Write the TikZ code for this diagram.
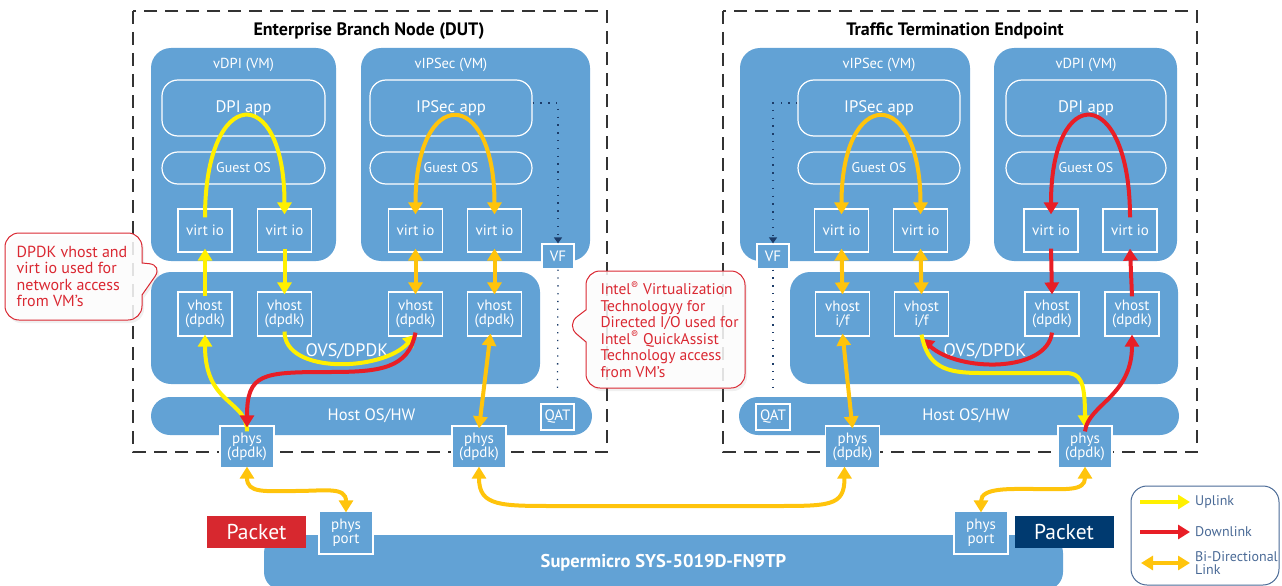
\documentclass[tikz,border=0pt]{standalone}
\usepackage{fontspec}
\setmainfont{PT Sans}
\usepackage{tikz}
\usetikzlibrary{arrows.meta,positioning,calc,shapes.callouts,shadows}

\definecolor{boxblue}{RGB}{98,162,213}
\definecolor{upyellow}{RGB}{255,240,0}
\definecolor{biorange}{RGB}{255,196,12}
\definecolor{downred}{RGB}{232,30,38}
\definecolor{notered}{RGB}{218,40,50}
\definecolor{pktred}{RGB}{215,40,47}
\definecolor{pktnavy}{RGB}{0,58,112}
\definecolor{vfnavy}{RGB}{28,60,105}
\definecolor{keytxt}{RGB}{74,106,150}

\tikzset{dashframe/.style={draw=black!80,line width=1.6pt,dash pattern=on 13pt off 8pt}}
\tikzset{boxtitle/.style={font=\fontsize{18}{20}\selectfont\bfseries,inner sep=0pt}}
\tikzset{vm/.style={fill=boxblue,rounded corners=20pt,inner sep=0pt}}
\tikzset{vmtxt/.style={text=white,font=\fontsize{14.5}{16}\selectfont,inner sep=0pt}}
\tikzset{app/.style={draw=white,line width=1.2pt,rounded corners=16pt,text=white,inner sep=0pt,minimum height=56pt,font=\fontsize{16.7}{18}\selectfont}}
\tikzset{os/.style={app,minimum height=32pt,font=\fontsize{14}{15}\selectfont}}
\tikzset{port/.style={draw=white,line width=1.2pt,text=white,align=center,inner sep=0pt,font=\fontsize{15}{14}\selectfont}}
\tikzset{io/.style={port,minimum width=54pt,minimum height=43pt}}
\tikzset{fillbox/.style={port,fill=boxblue}}
\tikzset{bar/.style={fill=boxblue,text=white,inner sep=0pt,font=\fontsize{16.5}{18}\selectfont}}
\tikzset{vfdots/.style={draw=vfnavy,line width=1.3pt,dash pattern=on 1.3pt off 6.5pt,-{Triangle[length=6pt,width=8pt]}}}
\tikzset{pkt/.style={text=white,inner sep=0pt,minimum width=99pt,minimum height=32pt,font=\fontsize{21.5}{23}\selectfont}}
\tikzset{callnote/.style={rectangle callout,rounded corners=14pt,draw=notered,line width=1pt,fill=white,fill opacity=0.85,text opacity=1,
  text=notered,align=left,inner sep=0pt,callout pointer width=32pt,font=\fontsize{16}{16.6}\selectfont,
  drop shadow={opacity=0.12,shadow xshift=2pt,shadow yshift=-3pt}}}
\tikzset{keytxt/.style={text=keytxt,align=left,inner sep=0pt,font=\fontsize{14}{13.5}\selectfont}}

\begin{document}
\begin{tikzpicture}[x=1pt,y=-1pt,
  uplink/.style={draw=upyellow,line width=4pt,-{Triangle[length=12pt,width=14pt]}},
  downlink/.style={draw=downred,line width=4pt,-{Triangle[length=12pt,width=14pt]}},
  bilink/.style={draw=biorange,line width=4pt,{Triangle[length=12pt,width=14pt]}-{Triangle[length=12pt,width=14pt]}}]
\useasboundingbox (0,0) rectangle (1282,586);

\draw[dashframe] (133,11) rectangle (607,452);
\draw[dashframe] (723,11) rectangle (1197,452);
\node[boxtitle] (ttl1) at (369,31) {Enterprise Branch Node (DUT)};
\node[boxtitle] (ttl2) at (955,31) {Traffic Termination Endpoint};

% enterprise branch node
\node[vm,minimum width=185pt,minimum height=213pt] (vm1) at (243.5,154.5) {};
\node[app,minimum width=163pt] (app1) at (243.5,108) {DPI app};
\node[os,minimum width=163pt] (os1) at (243.5,168) {Guest OS};
\node[vmtxt,above=8pt of app1] (lbl1) {vDPI (VM)};
\node[io] (vio1) at (205,230.5) {virt io};
\node[io] (vio2) at (284.5,230.5) {virt io};

\node[vm,minimum width=229pt,minimum height=213pt] (vm2) at (475.5,154.5) {};
\node[app,minimum width=162pt] (app2) at (451,108) {IPSec app};
\node[os,minimum width=162pt] (os2) at (451,168) {Guest OS};
\node[vmtxt,above=8pt of app2] (lbl2) {vIPSec (VM)};
\node[io] (vio3) at (415.5,230.5) {virt io};
\node[io] (vio4) at (494.5,230.5) {virt io};
\node[fillbox,minimum width=32pt,minimum height=25pt] (vf1) at (558,256.5) {VF};

\node[vm,minimum width=389pt,minimum height=112pt] (ovs1) at (345.5,328) {};
\node[vmtxt,font=\fontsize{18}{20}\selectfont] (ovst1) at (347,351) {OVS/DPDK};
\node[io,minimum height=44pt] (vh1) at (205,314) {vhost\\(dpdk)};
\node[io,minimum height=44pt] (vh2) at (284.5,314) {vhost\\(dpdk)};
\node[io,minimum height=44pt] (vh3) at (415.5,314) {vhost\\(dpdk)};
\node[io,minimum height=44pt] (vh4) at (494.5,314) {vhost\\(dpdk)};

\node[bar,rounded corners=19pt,minimum width=441pt,minimum height=38pt] (host1) at (371.5,416) {Host OS/HW};
\node[port,minimum width=33pt,minimum height=26pt] (qat1) at (557.5,417) {QAT};
\node[fillbox,minimum width=54pt,minimum height=42pt] (phys1) at (247,447) {phys\\(dpdk)};
\node[fillbox,minimum width=54pt,minimum height=42pt] (phys2) at (479,447) {phys\\(dpdk)};

% traffic termination endpoint
\node[vm,minimum width=230pt,minimum height=213pt] (vm3) at (855,154.5) {};
\node[app,minimum width=162pt] (app3) at (879,108) {IPSec app};
\node[os,minimum width=162pt] (os3) at (879,168) {Guest OS};
\node[vmtxt,above=8pt of app3] (lbl3) {vIPSec (VM)};
\node[io] (vio5) at (841.5,230.5) {virt io};
\node[io] (vio6) at (920.5,230.5) {virt io};
\node[fillbox,minimum width=32pt,minimum height=25pt] (vf2) at (773,256.5) {VF};

\node[vm,minimum width=183pt,minimum height=213pt] (vm4) at (1085.5,154.5) {};
\node[app,minimum width=160pt] (app4) at (1086,108) {DPI app};
\node[os,minimum width=160pt] (os4) at (1086,168) {Guest OS};
\node[vmtxt,above=8pt of app4] (lbl4) {vDPI (VM)};
\node[io] (vio7) at (1051,230.5) {virt io};
\node[io] (vio8) at (1130,230.5) {virt io};

\node[vm,minimum width=388pt,minimum height=112pt] (ovs2) at (984,328) {};
\node[vmtxt,font=\fontsize{18}{20}\selectfont] (ovst2) at (985,351) {OVS/DPDK};
\node[io,minimum height=44pt] (vh5) at (842.5,314) {vhost\\i/f};
\node[io,minimum height=44pt] (vh6) at (921.5,314) {vhost\\i/f};
\node[io,minimum height=44pt] (vh7) at (1052,314) {vhost\\(dpdk)};
\node[io,minimum height=44pt] (vh8) at (1132,314) {vhost\\(dpdk)};

\node[bar,rounded corners=19pt,minimum width=440pt,minimum height=38pt] (host2) at (959,416) {\hspace*{14pt}Host OS/HW};
\node[port,minimum width=34pt,minimum height=26pt] (qat2) at (773,417) {QAT};
\node[fillbox,minimum width=54pt,minimum height=42pt] (phys5) at (852.5,447) {phys\\(dpdk)};
\node[fillbox,minimum width=54pt,minimum height=42pt] (phys6) at (1085,447) {phys\\(dpdk)};

% server
\node[bar,rounded corners=18pt,minimum width=799pt,minimum height=55pt,font=\fontsize{18.5}{20}\selectfont\bfseries] (srv) at (663.5,562.5) {Supermicro SYS-5019D-FN9TP};
\node[fillbox,minimum width=54pt,minimum height=43pt] (port1) at (346,532.5) {phys\\port};
\node[fillbox,minimum width=54pt,minimum height=43pt] (port2) at (981,532.5) {phys\\port};
\node[pkt,fill=pktred] (pkt1) at (256.5,532) {Packet};
\node[pkt,fill=pktnavy] (pkt2) at (1064,532) {Packet};

% VF paths
\draw[vfdots] ([yshift=5pt]app2.east) -| (vf1.north);
\draw[vfdots,-] (vf1.south) -- ([yshift=11pt]qat1.north);
\draw[vfdots] ([yshift=5pt]app3.west) -| (vf2.north);
\draw[vfdots,-] (vf2.south) -- ([yshift=11pt]qat2.north);

% left links
\draw[uplink] ([yshift=-9pt]vio1.north) .. controls +(0,-133) and +(0,-133) .. ([yshift=-6pt]vio2.north);
\draw[bilink] ([yshift=-6pt]vio3.north) .. controls +(0,-129) and +(0,-129) .. ([yshift=-6pt]vio4.north);
\draw[uplink] ([yshift=-5pt]vh1.north) -- ([yshift=4pt]vio1.south);
\draw[uplink] ([yshift=4pt]vio2.south) -- ([yshift=-3pt]vh2.north);
\draw[bilink] ([yshift=4pt]vio3.south) -- ([yshift=-3pt]vh3.north);
\draw[bilink] ([yshift=4pt]vio4.south) -- ([yshift=-3pt]vh4.north);
\draw[uplink] ([yshift=-6pt]phys1.north) .. controls +(0,-32) and +(0,71) .. ([yshift=2pt]vh1.south);
\draw[uplink] ([yshift=5pt]vh2.south) .. controls +(0,43) and +(-33,37) .. ([yshift=2pt]vh3.south);
\draw[downlink] ([yshift=4pt]vh3.south) .. controls +(-7,36) and +(50,0) .. (330,372) .. controls +(-68,0) and +(0,-54) .. ([yshift=-2pt]phys1.north);
\draw[bilink] ([xshift=-4pt,yshift=3pt]vh4.south) -- ([yshift=-3pt]phys2.north);

% right links
\draw[bilink] ([yshift=-6pt]vio5.north) .. controls +(0,-129) and +(0,-129) .. ([yshift=-6pt]vio6.north);
\draw[downlink] ([yshift=-9pt]vio8.north) .. controls +(0,-133) and +(0,-133) .. ([yshift=-6pt]vio7.north);
\draw[bilink] ([yshift=4pt]vio5.south) -- ([yshift=-3pt]vh5.north);
\draw[bilink] ([yshift=4pt]vio6.south) -- ([yshift=-3pt]vh6.north);
\draw[downlink] ([yshift=4pt]vio7.south) -- ([yshift=-3pt]vh7.north);
\draw[downlink] ([yshift=-5pt]vh8.north) -- ([yshift=4pt]vio8.south);
\draw[bilink] ([yshift=3pt]vh5.south) -- ([yshift=-3pt]phys5.north);
\draw[downlink] ([yshift=4pt]vh7.south) .. controls +(-5,40) and +(38,34) .. ([yshift=-2pt]vh6.south);
\draw[uplink] ([yshift=2pt]vh6.south) .. controls +(6,32) and +(-35,0) .. (980,373) -- (1065,373) .. controls +(15,0) and +(0,-48) .. ([yshift=-2pt]phys6.north);
\draw[downlink] ([yshift=-6pt]phys6.north) .. controls +(3,-27) and +(0,62) .. ([yshift=2pt]vh8.south);

% physical links
\draw[bilink] ([yshift=2pt]phys1.south) .. controls +(0,27) and +(-30,0) .. (295,491) .. controls +(30,0) and +(0,-26) .. ([yshift=-2pt]port1.north);
\draw[bilink] ([yshift=2pt]phys2.south) .. controls +(0,40) and +(-60,0) .. (560,506) -- (770,506) .. controls +(60,0) and +(0,40) .. ([xshift=-8pt,yshift=2pt]phys5.south);
\draw[bilink] ([yshift=-2pt]port2.north) .. controls +(0,-25) and +(-25,0) .. (1035,489) .. controls +(30,0) and +(0,25) .. ([yshift=2pt]phys6.south);

% legend
\node[draw=keytxt,line width=1pt,rounded corners=16pt,minimum width=148pt,minimum height=99pt,inner sep=0pt] (key) at (1205,535.5) {};
\coordinate (k1a) at (1140,502);
\coordinate (k1b) at (1190,502);
\coordinate (k2a) at (1140,532);
\coordinate (k2b) at (1190,532);
\coordinate (k3a) at (1141,563);
\coordinate (k3b) at (1190,563);
\draw[uplink,line width=4.5pt] (k1a) -- (k1b);
\draw[downlink,line width=4.5pt] (k2a) -- (k2b);
\draw[bilink,line width=4.5pt] (k3a) -- (k3b);
\node[keytxt,right=5pt of k1b] (kt1) {Uplink};
\node[keytxt,right=5pt of k2b] (kt2) {Downlink};
\node[keytxt,right=5pt of k3b] (kt3) {Bi-Directional\\Link};

% callouts
\node[callnote,minimum width=137pt,minimum height=87pt,callout absolute pointer={(163,265)}] (note1) at (73.5,276.5)
  {\hspace*{-3pt}DPDK vhost and\\\hspace*{-3pt}virt io used for\\\hspace*{-3pt}network access\\\hspace*{-3pt}from VM’s};
\node[callnote,minimum width=159pt,minimum height=117pt,font=\fontsize{15.5}{16.6}\selectfont,callout absolute pointer={(566,325)}] (note2) at (665.5,329.5)
  {\hspace*{8pt}Intel\textsuperscript{®} Virtualization\\\hspace*{8pt}Technologyy for\\\hspace*{8pt}Directed I/O used for\\\hspace*{8pt}Intel\textsuperscript{®} QuickAssist\\\hspace*{8pt}Technology access\\\hspace*{8pt}from VM’s};
\end{tikzpicture}
\end{document}
